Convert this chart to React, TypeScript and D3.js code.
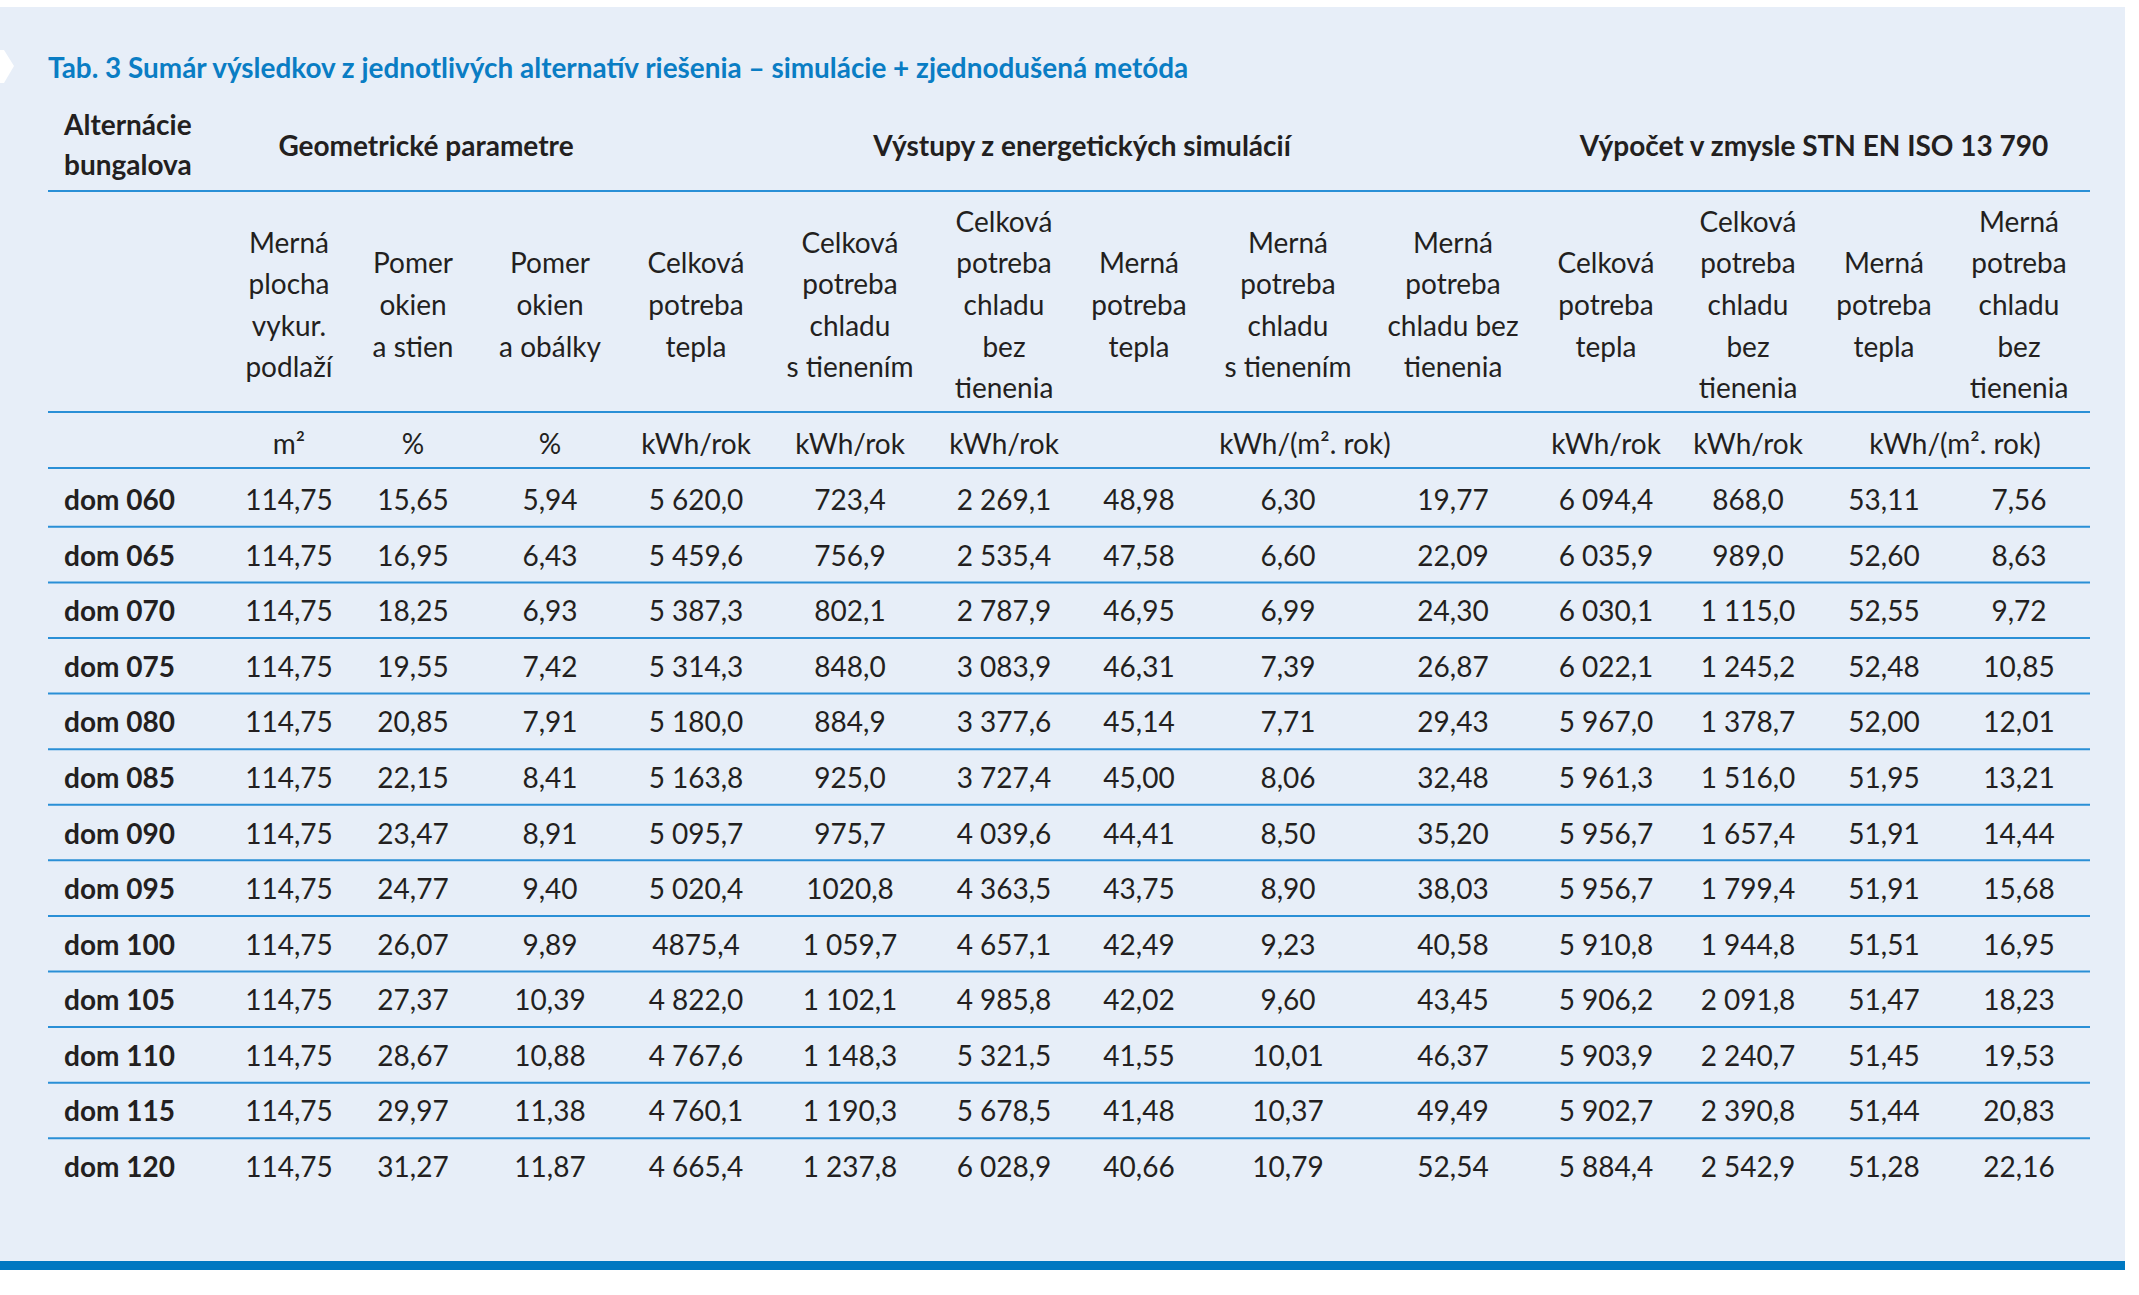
import React from "react";
import * as d3 from "d3";

const rowLabels = ["dom 060","dom 065","dom 070","dom 075","dom 080","dom 085","dom 090","dom 095","dom 100","dom 105","dom 110","dom 115","dom 120"];
const mernaPlocha = ["114,75","114,75","114,75","114,75","114,75","114,75","114,75","114,75","114,75","114,75","114,75","114,75","114,75"];
const pomerStien = ["15,65","16,95","18,25","19,55","20,85","22,15","23,47","24,77","26,07","27,37","28,67","29,97","31,27"];
const pomerObalky = ["5,94","6,43","6,93","7,42","7,91","8,41","8,91","9,40","9,89","10,39","10,88","11,38","11,87"];
const simTepla = ["5 620,0","5 459,6","5 387,3","5 314,3","5 180,0","5 163,8","5 095,7","5 020,4","4875,4","4 822,0","4 767,6","4 760,1","4 665,4"];
const simChladS = ["723,4","756,9","802,1","848,0","884,9","925,0","975,7","1020,8","1 059,7","1 102,1","1 148,3","1 190,3","1 237,8"];
const simChladBez = ["2 269,1","2 535,4","2 787,9","3 083,9","3 377,6","3 727,4","4 039,6","4 363,5","4 657,1","4 985,8","5 321,5","5 678,5","6 028,9"];
const simMernaTepla = ["48,98","47,58","46,95","46,31","45,14","45,00","44,41","43,75","42,49","42,02","41,55","41,48","40,66"];
const simMernaChladS = ["6,30","6,60","6,99","7,39","7,71","8,06","8,50","8,90","9,23","9,60","10,01","10,37","10,79"];
const simMernaChladBez = ["19,77","22,09","24,30","26,87","29,43","32,48","35,20","38,03","40,58","43,45","46,37","49,49","52,54"];
const isoTepla = ["6 094,4","6 035,9","6 030,1","6 022,1","5 967,0","5 961,3","5 956,7","5 956,7","5 910,8","5 906,2","5 903,9","5 902,7","5 884,4"];
const isoChladBez = ["868,0","989,0","1 115,0","1 245,2","1 378,7","1 516,0","1 657,4","1 799,4","1 944,8","2 091,8","2 240,7","2 390,8","2 542,9"];
const isoMernaTepla = ["53,11","52,60","52,55","52,48","52,00","51,95","51,91","51,91","51,51","51,47","51,45","51,44","51,28"];
const isoMernaChlad = ["7,56","8,63","9,72","10,85","12,01","13,21","14,44","15,68","16,95","18,23","19,53","20,83","22,16"];

const columns = [mernaPlocha, pomerStien, pomerObalky, simTepla, simChladS, simChladBez, simMernaTepla, simMernaChladS, simMernaChladBez, isoTepla, isoChladBez, isoMernaTepla, isoMernaChlad];

const colHeaders = [
  ["Merná","plocha","vykur.","podlaží"],
  ["Pomer","okien","a stien"],
  ["Pomer","okien","a obálky"],
  ["Celková","potreba","tepla"],
  ["Celková","potreba","chladu","s tienením"],
  ["Celková","potreba","chladu","bez","tienenia"],
  ["Merná","potreba","tepla"],
  ["Merná","potreba","chladu","s tienením"],
  ["Merná","potreba","chladu bez","tienenia"],
  ["Celková","potreba","tepla"],
  ["Celková","potreba","chladu","bez","tienenia"],
  ["Merná","potreba","tepla"],
  ["Merná","potreba","chladu","bez","tienenia"],
];

const unitsSingle = ["m²","%","%","kWh/rok","kWh/rok","kWh/rok","","","","kWh/rok","kWh/rok","",""];
const unitsSpan = [{ text: "kWh/(m². rok)", from: 6, to: 8 }, { text: "kWh/(m². rok)", from: 11, to: 12 }];

const groupHeaders = [
  { text: "Geometrické parametre", from: 0, to: 2 },
  { text: "Výstupy z energetických simulácií", from: 3, to: 8 },
  { text: "Výpočet v zmysle STN EN ISO 13 790", from: 9, to: 12 },
];

const title = "Tab. 3 Sumár výsledkov z jednotlivých alternatív riešenia – simulácie + zjednodušená metóda";

// layout
const W = 2139, H = 1295;
const colCenters = [289, 413, 550, 696, 850, 1004, 1139, 1288, 1453, 1606, 1748, 1884, 2019];
const unitSpanCenters = [1305, 1955];
const groupCenters = [426, 1082, 1814];
const tableLeft = 48, tableRight = 2090;
const FONT = "Lato, 'Open Sans', sans-serif";
const TXT = "#231f20";
const LINE = "#2a8fd6";
const BLUE = "#0a7dc4";

export default function App() {
  const rowY = d3.scaleLinear().domain([0, rowLabels.length - 1]).range([499, 1166]);
  const step = rowY(1) - rowY(0);
  const headLine = 41.6;
  const headCenter = 304;
  const fs = 28;

  return (
    <svg width={W} height={H} style={{ position: "absolute", left: 0, top: 0, display: "block" }} fontFamily={FONT}>
      <rect x={0} y={0} width={W} height={H} fill="#ffffff" />
      <rect x={0} y={7} width={2125} height={1255} fill="#e7eef8" />
      <rect x={0} y={1261} width={2125} height={9} fill="#0078c1" />
      <polygon points="0,50 4,50 14,66 4,83 0,83" fill="#ffffff" />
      <text x={48} y={67} fontSize={27.9} fontWeight={700} fill={BLUE} dominantBaseline="central">{title}</text>

      {/* header row 1 */}
      <text x={64} y={124} fontSize={fs} fontWeight={700} fill={TXT} dominantBaseline="central">Alternácie</text>
      <text x={64} y={164} fontSize={fs} fontWeight={700} fill={TXT} dominantBaseline="central">bungalova</text>
      {groupHeaders.map((g, i) => (
        <text key={i} x={groupCenters[i]} y={145} fontSize={fs} fontWeight={700} fill={TXT} textAnchor="middle" dominantBaseline="central">{g.text}</text>
      ))}

      {/* lines */}
      {[191, 412, 468].map((y, i) => (
        <line key={i} x1={tableLeft} x2={tableRight} y1={y} y2={y} stroke={LINE} strokeWidth={2} />
      ))}
      {rowLabels.slice(0, -1).map((_, i) => (
        <line key={"r" + i} x1={tableLeft} x2={tableRight} y1={rowY(i) + step / 2} y2={rowY(i) + step / 2} stroke={LINE} strokeWidth={2} />
      ))}

      {/* header row 2 */}
      {colHeaders.map((lines, ci) => (
        <g key={ci}>
          {lines.map((ln, k) => (
            <text key={k} x={colCenters[ci]} y={headCenter + (k - (lines.length - 1) / 2) * headLine} fontSize={fs} fill={TXT} textAnchor="middle" dominantBaseline="central">{ln}</text>
          ))}
        </g>
      ))}

      {/* units */}
      {unitsSingle.map((u, ci) => u ? (
        <text key={ci} x={colCenters[ci]} y={443} fontSize={fs} fill={TXT} textAnchor="middle" dominantBaseline="central">{u}</text>
      ) : null)}
      {unitsSpan.map((u, i) => (
        <text key={"s" + i} x={unitSpanCenters[i]} y={443} fontSize={fs} fill={TXT} textAnchor="middle" dominantBaseline="central">{u.text}</text>
      ))}

      {/* data */}
      {rowLabels.map((lab, ri) => (
        <g key={ri}>
          <text x={64} y={rowY(ri)} fontSize={fs} fontWeight={700} fill={TXT} dominantBaseline="central">{lab}</text>
          {columns.map((col, ci) => (
            <text key={ci} x={colCenters[ci]} y={rowY(ri)} fontSize={fs} fill={TXT} textAnchor="middle" dominantBaseline="central">{col[ri]}</text>
          ))}
        </g>
      ))}
    </svg>
  );
}
